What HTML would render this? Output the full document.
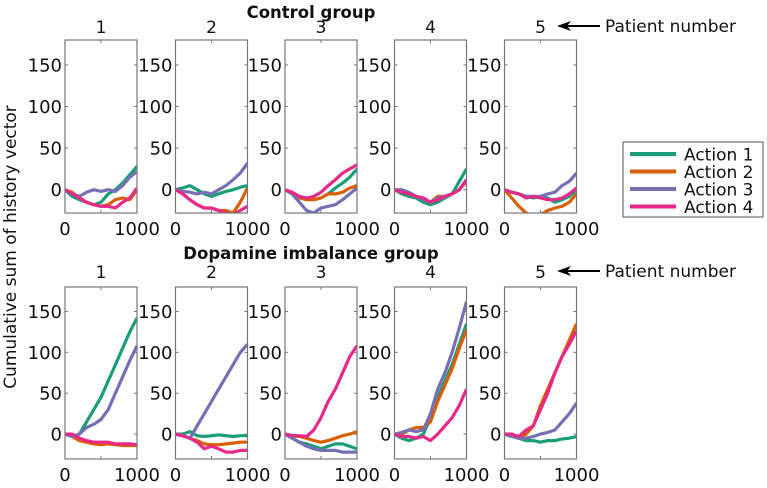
<!DOCTYPE html>
<html><head><meta charset="utf-8"><style>
body{margin:0;background:#fff}
svg text{font-family:"DejaVu Sans","Liberation Sans",sans-serif;fill:#111}
</style></head><body>
<svg id="chart" width="767" height="483" xmlns="http://www.w3.org/2000/svg"></svg>
<script>
const xs=[0,100,200,300,400,500,600,700,800,900,1000];
const actionNames=["Action 1","Action 2","Action 3","Action 4"];
const colors=["#1b9e77","#d95f02","#7570b3","#e7298a"];
const yTicks=[0,50,100,150];
const xTicks=[0,1000];
const patientLabels=["1","2","3","4","5"];
const control=[
 [[0,-8,-12,-15,-18,-15,-5,0,8,18,28],[0,-3,-10,-15,-18,-20,-18,-12,-10,-12,0],[0,-5,-8,-3,0,-2,0,-2,5,15,22],[0,-5,-10,-15,-18,-20,-20,-22,-15,-10,2]],
 [[0,2,5,0,-5,-8,-5,-2,0,3,5],[0,-5,-12,-18,-22,-22,-25,-25,-28,-15,2],[0,-2,-3,-5,-3,-5,0,5,12,20,32],[0,-5,-12,-18,-22,-22,-25,-28,-30,-25,-20]],
 [[0,-5,-8,-10,-12,-10,-5,2,8,15,25],[0,-5,-10,-12,-12,-10,-5,-5,-3,2,5],[0,-5,-15,-25,-28,-22,-20,-18,-12,-5,2],[0,-3,-8,-10,-8,-3,5,12,20,25,30]],
 [[0,-5,-8,-10,-15,-18,-15,-10,-5,10,25],[0,-3,-5,-8,-10,-15,-8,-8,-5,0,10],[0,0,-3,-8,-12,-15,-10,-8,-5,0,12],[0,-3,-5,-8,-10,-15,-12,-8,-5,0,12]],
 [[0,-3,-5,-8,-10,-8,-10,-15,-12,-8,0],[0,-10,-20,-28,-32,-30,-25,-22,-20,-15,-5],[0,-3,-5,-8,-8,-8,-5,-3,5,10,20],[0,-3,-5,-10,-8,-10,-12,-12,-10,-5,2]]
];
const dopamine=[
 [[0,-3,0,15,30,45,65,85,105,125,142],[0,-3,-8,-10,-12,-13,-12,-13,-14,-14,-14],[0,-3,0,8,12,18,30,50,70,90,108],[0,0,-5,-8,-10,-10,-10,-12,-12,-12,-13]],
 [[0,0,3,-2,-3,-2,-1,-2,-3,-2,-2],[0,-2,-5,-8,-12,-13,-13,-12,-11,-10,-10],[0,-2,-5,10,25,40,55,70,85,100,110],[0,-2,-5,-10,-18,-15,-18,-22,-22,-20,-20]],
 [[0,-5,-10,-12,-15,-18,-15,-12,-12,-15,-18],[0,-2,-3,-5,-8,-10,-8,-5,-2,0,3],[0,-5,-10,-15,-18,-20,-20,-20,-22,-22,-22],[0,-2,-2,-3,5,20,40,55,75,95,108]],
 [[0,-5,-8,-5,0,20,45,65,85,110,135],[0,0,5,8,8,15,40,60,80,105,128],[0,2,5,3,5,25,55,75,100,130,162],[0,-3,-3,-5,-3,-8,0,10,20,35,55]],
 [[0,-3,-5,-8,-8,-10,-8,-8,-6,-5,-3],[0,0,-5,0,10,35,55,75,95,115,135],[0,-3,-5,-5,-3,0,2,5,15,25,38],[0,0,-3,5,10,30,50,75,95,110,126]]
];
const NS="http://www.w3.org/2000/svg";
const svg=document.getElementById('chart');
function mk(t,a,p){const e=document.createElementNS(NS,t);for(const k in a)e.setAttribute(k,a[k]);(p||svg).appendChild(e);return e;}
function txt(s,x,y,a,p){const e=mk('text',Object.assign({x:x,y:y},a),p);e.textContent=s;return e;}
const lefts=[65,175.5,285,394.5,504.5];const W=72;
const rows=[{data:control,top:40,bot:213,ymin:-28,ymax:180,title:"Control group",ty:18,ny:33,name:"control"},
 {data:dopamine,top:287,bot:459,ymin:-30.5,ymax:180,title:"Dopamine imbalance group",ty:259,ny:278,name:"dopamine"}];
const defs=mk('defs',{});
rows.forEach((r,ri)=>{
 const gt=txt(r.title,311,r.ty,{'text-anchor':'middle','font-size':'16.5','font-weight':'bold'});
 
 
 r.data.forEach((series,pi)=>{
  const L=lefts[pi],R=L+W;
  const X=v=>L+(v/1000)*W;
  const Y=v=>r.bot-(v-r.ymin)/(r.ymax-r.ymin)*(r.bot-r.top);
  const g=mk('g',{});
  
  
  const cid='c'+ri+pi;
  const cp=mk('clipPath',{id:cid},defs);mk('rect',{x:L,y:r.top,width:W,height:r.bot-r.top},cp);
  const t=txt(patientLabels[pi],(L+R)/2,r.ny,{'text-anchor':'middle','font-size':'17'},g);
  
  
  yTicks.forEach(v=>{
   mk('line',{x1:L,x2:L+3,y1:Y(v),y2:Y(v),stroke:'#777','stroke-width':1},g);
   mk('line',{x1:R,x2:R-3,y1:Y(v),y2:Y(v),stroke:'#777','stroke-width':1},g);
   const yl=txt(String(v),L-3,Y(v)+6.5,{'text-anchor':'end','font-size':'18'},g);
   
   
  });
  [500].forEach(v=>{mk('line',{x1:X(v),x2:X(v),y1:r.bot,y2:r.bot-3,stroke:'#777'},g);mk('line',{x1:X(v),x2:X(v),y1:r.top,y2:r.top+3,stroke:'#777'},g);});
  xTicks.forEach(v=>{const xl=txt(String(v),X(v),r.bot+22,{'text-anchor':'middle','font-size':'18'},g);
   
   });
  const lg=mk('g',{'clip-path':'url(#'+cid+')'},g);
  series.forEach((vals,si)=>{
   const d=vals.map((v,i)=>(i?'L':'M')+X(xs[i]).toFixed(1)+','+Y(v).toFixed(1)).join('');
   const p=mk('path',{d:d,fill:'none',stroke:colors[si],'stroke-width':3.2,'stroke-linejoin':'round'},lg);
   
   
  });
  mk('rect',{x:L,y:r.top,width:W,height:r.bot-r.top,fill:'none',stroke:'#777','stroke-width':1.2},g);
 });
 const pn=txt('Patient number',605,r.ny-1,{'font-size':'17'});
 
 
 mk('line',{x1:600,x2:565,y1:r.ny-7,y2:r.ny-7,stroke:'#000','stroke-width':2});
 mk('path',{d:`M557,${r.ny-7}L571,${r.ny-12}L567,${r.ny-7}L571,${r.ny-2}Z`,fill:'#000'});
});
const yl=txt('Cumulative sum of history vector',0,0,{'text-anchor':'middle','font-size':'17',transform:'translate(16,247) rotate(-90)'});


const leg=mk('g',{});


mk('rect',{x:623,y:142,width:140,height:75,fill:'#fff',stroke:'#555','stroke-width':1},leg);
actionNames.forEach((n,i)=>{
 const y=154+i*17.5;
 mk('line',{x1:630,x2:676,y1:y,y2:y,stroke:colors[i],'stroke-width':4},leg);
 const e=txt(n,684,y+6.5,{'font-size':'17'},leg);
 
 
});
</script>
</body></html>
